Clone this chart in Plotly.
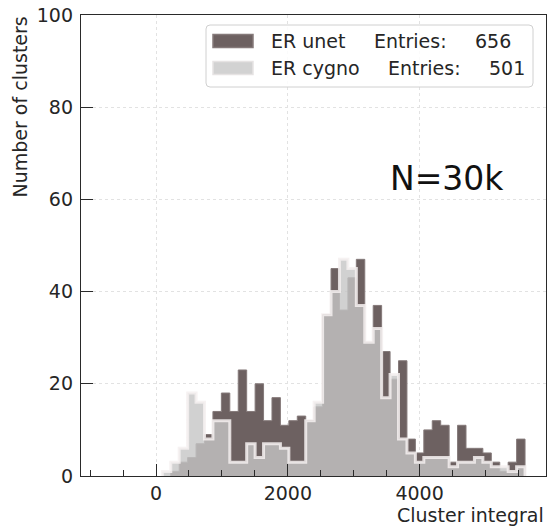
import numpy as np
import plotly.graph_objects as go

# Histogram binning: 50 equal bins over the cluster-integral range
bin_lo = -800.0
bin_width = 128.0
n_bins = 50

# Counts per bin (first 7 bins, below ~100, are empty)
unet_counts = [0, 0, 0, 0, 0, 0, 0,
               0, 1, 3, 4, 7, 9, 14, 18, 14, 23,
               14, 20, 12, 17, 11, 12, 13, 12, 15, 35,
               45, 36, 43, 47, 29, 37, 27, 21, 25, 8,
               5, 10, 12, 11, 3, 11, 6, 6, 5, 3,
               1, 3, 8]
cygno_counts = [0, 0, 0, 0, 0, 0, 0,
                1, 3, 6, 18, 16, 8, 12, 12, 3, 3,
                7, 4, 7, 7, 6, 3, 3, 12, 16, 35,
                40, 47, 45, 37, 29, 32, 17, 22, 8, 5,
                3, 4, 4, 4, 2, 3, 3, 4, 3, 2,
                2, 1, 2]

series_names = ["ER unet", "ER cygno"]
annotation_text = "N=30k"

x_range = [-1138, 5918]
y_range = [0, 100]
x_ticks = [0, 2000, 4000]
y_ticks = [0, 20, 40, 60, 80, 100]

FONT = "DejaVu Sans"
TXT = "#262626"
UNET_FILL = "#6d6161"
UNET_EDGE = "#857a7a"
CYGNO_FILL = "rgba(198,198,198,0.8)"
CYGNO_EDGE = "rgba(244,240,240,0.85)"

W, H = 549, 526
L, R, T, B = 81, 3, 15, 50
PW, PH = W - L - R, H - T - B

edges = bin_lo + bin_width * np.arange(n_bins + 1)


def step_outline(counts):
    """Closed step outline (hv) of a histogram, starting at the first filled bin."""
    counts = np.asarray(counts, dtype=float)
    nz = np.nonzero(counts)[0]
    i0, i1 = nz[0], nz[-1] + 1
    xs = [edges[i0]] + list(edges[i0:i1]) + [edges[i1]]
    ys = [0.0] + list(counts[i0:i1]) + [0.0]
    return xs, ys


def fx(px):
    return (px - L) / PW


def fy(py):
    return (H - B - py) / PH


fig = go.Figure()

ux, uy = step_outline(unet_counts)
fig.add_trace(go.Scatter(
    x=ux, y=uy, mode="lines", line_shape="hv",
    line=dict(color=UNET_EDGE, width=1), fill="tozeroy", fillcolor=UNET_FILL,
    name=series_names[0], showlegend=False, hoverinfo="skip"))

cx, cy = step_outline(cygno_counts)
fig.add_trace(go.Scatter(
    x=cx, y=cy, mode="lines", line_shape="hv",
    line=dict(color=CYGNO_EDGE, width=3), fill="tozeroy", fillcolor=CYGNO_FILL,
    name=series_names[1], showlegend=False, hoverinfo="skip"))

axis_common = dict(
    showline=True, linecolor="#2a2a2a", linewidth=1.3, mirror=True,
    ticks="inside", ticklen=12, tickwidth=1.3, tickcolor="#2a2a2a",
    showgrid=True, gridcolor="#e2e2e2", griddash="dot", gridwidth=1,
    zeroline=False,
    tickfont=dict(family=FONT, size=19, color=TXT),
)

fig.update_xaxes(range=x_range, tickvals=x_ticks, ticktext=[str(v) for v in x_ticks],
                 minor=dict(ticks="inside", ticklen=6, tickwidth=1.2,
                            tickcolor="#2a2a2a", dtick=500, tick0=0, showgrid=False),
                 ticklabelstandoff=0, **axis_common)
fig.update_yaxes(range=y_range, tickvals=y_ticks, ticktext=[str(v) for v in y_ticks],
                 ticklabelstandoff=3, **axis_common)

shapes = []
annotations = []

# Legend frame with rounded corners
bx0, bx1, by0, by1, rr = 206, 533, 25, 87, 4
path = (f"M {fx(bx0 + rr)},{fy(by0)} L {fx(bx1 - rr)},{fy(by0)} "
        f"Q {fx(bx1)},{fy(by0)} {fx(bx1)},{fy(by0 + rr)} "
        f"L {fx(bx1)},{fy(by1 - rr)} Q {fx(bx1)},{fy(by1)} {fx(bx1 - rr)},{fy(by1)} "
        f"L {fx(bx0 + rr)},{fy(by1)} Q {fx(bx0)},{fy(by1)} {fx(bx0)},{fy(by1 - rr)} "
        f"L {fx(bx0)},{fy(by0 + rr)} Q {fx(bx0)},{fy(by0)} {fx(bx0 + rr)},{fy(by0)} Z")
shapes.append(dict(type="path", xref="paper", yref="paper", path=path,
                   line=dict(color="#d0d0d0", width=1),
                   fillcolor="rgba(255,255,255,0.85)", layer="above"))

rows = [
    (series_names[0], sum(unet_counts), UNET_FILL, UNET_EDGE, 41, 372, 513),
    (series_names[1], sum(cygno_counts), "#d2d2d2", "#e6e3e3", 68, 386, 527),
]
for name, entries, fill, edge, yc, ex, nx in rows:
    shapes.append(dict(type="rect", xref="paper", yref="paper",
                       x0=fx(213), x1=fx(253), y0=fy(yc - 6.5), y1=fy(yc + 6.5),
                       fillcolor=fill, line=dict(color=edge, width=1.5), layer="above"))
    for text, px, anchor in [(name, 269, "left"), ("Entries:", ex, "left"),
                             (str(entries), nx, "right")]:
        annotations.append(dict(text=text, x=fx(px), y=fy(yc), xref="paper", yref="paper",
                                xanchor=anchor, yanchor="middle", showarrow=False,
                                font=dict(family=FONT, size=19, color=TXT)))

annotations.append(dict(text=annotation_text, x=fx(447), y=fy(178), xref="paper",
                        yref="paper", xanchor="center", yanchor="middle", showarrow=False,
                        font=dict(family=FONT, size=33, color="#111111")))

# Axis titles placed at the end of each axis
annotations.append(dict(text="Cluster integral", x=1.0, y=fy(515), xref="paper",
                        yref="paper", xanchor="right", yanchor="middle", showarrow=False,
                        font=dict(family=FONT, size=19, color=TXT)))
annotations.append(dict(text="Number of clusters", x=fx(19), y=1.0, xref="paper",
                        yref="paper", xanchor="center", yanchor="top", textangle=-90,
                        showarrow=False, font=dict(family=FONT, size=19, color=TXT)))

fig.update_layout(
    width=W, height=H,
    margin=dict(l=L, r=R, t=T, b=B),
    paper_bgcolor="white", plot_bgcolor="white",
    shapes=shapes, annotations=annotations,
    showlegend=False,
)

fig.write_html("out.html")
